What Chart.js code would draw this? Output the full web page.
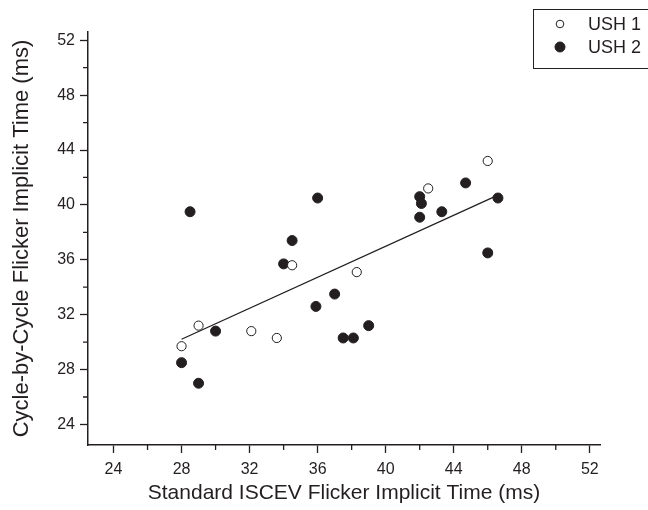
<!DOCTYPE html>
<html>
<head>
<meta charset="utf-8">
<script src="https://cdn.jsdelivr.net/npm/chart.js@4"></script>
<style>
  html, body { margin: 0; padding: 0; background: #fff; }
</style>
</head>
<body>
<canvas id="scatterChart" width="648" height="510"></canvas>
<script>
// USH 1 patients (open circles)
const ush1X = [28.0, 29.0, 32.1, 33.6, 34.5, 38.3, 42.5, 46.0];
const ush1Y = [29.7, 31.2, 30.8, 30.3, 35.6, 35.1, 41.2, 43.2];

// USH 2 patients (filled circles)
const ush2X = [28.0, 28.5, 29.0, 30.0, 34.0, 34.5, 35.9, 36.0, 37.0, 37.5, 38.1, 39.0, 42.0, 42.1, 42.0, 43.3, 44.7, 46.0, 46.6];
const ush2Y = [28.5, 39.5, 27.0, 30.8, 35.7, 37.4, 32.6, 40.5, 33.5, 30.3, 30.3, 31.2, 40.6, 40.1, 39.1, 39.5, 41.6, 36.5, 40.5];

// axis ticks
const tickValues = [24, 28, 32, 36, 40, 44, 48, 52];
const minorValues = [26, 30, 34, 38, 42, 46, 50];

const ink = '#231f20';
const fontFamily = '"Liberation Sans", Arial, sans-serif';

function toPoints(xs, ys) {
  return xs.map((x, i) => ({ x: x, y: ys[i] }));
}

// least squares line over all patients
function fitLine() {
  const xs = ush1X.concat(ush2X);
  const ys = ush1Y.concat(ush2Y);
  const n = xs.length;
  const mx = xs.reduce((a, b) => a + b, 0) / n;
  const my = ys.reduce((a, b) => a + b, 0) / n;
  let sxy = 0, sxx = 0;
  for (let i = 0; i < n; i++) {
    sxy += (xs[i] - mx) * (ys[i] - my);
    sxx += (xs[i] - mx) * (xs[i] - mx);
  }
  const slope = sxy / sxx;
  const x0 = Math.min(...xs), x1 = Math.max(...xs);
  return [
    { x: x0, y: my + slope * (x0 - mx) },
    { x: x1, y: my + slope * (x1 - mx) }
  ];
}

// short minor ticks between the labelled ones
const minorTicks = {
  id: 'minorTicks',
  afterDraw(chart) {
    const c = chart.ctx, area = chart.chartArea;
    const xs = chart.scales.x, ys = chart.scales.y;
    c.save();
    c.strokeStyle = ink;
    c.lineWidth = 1.3;
    c.beginPath();
    minorValues.forEach(v => {
      const px = xs.getPixelForValue(v);
      c.moveTo(px, area.bottom);
      c.lineTo(px, area.bottom + 5);
      const py = ys.getPixelForValue(v);
      c.moveTo(area.left - 5, py);
      c.lineTo(area.left, py);
    });
    c.stroke();
    c.restore();
  }
};

// boxed legend in the top right corner
const boxLegend = {
  id: 'boxLegend',
  afterDraw(chart) {
    const c = chart.ctx;
    c.save();
    c.strokeStyle = ink;
    c.lineWidth = 1;
    c.strokeRect(533.5, 9.5, 130, 59);
    const rows = [24, 47];
    chart.data.datasets.slice(0, 2).forEach((ds, i) => {
      c.beginPath();
      c.arc(560, rows[i], i === 0 ? 3.8 : 5, 0, Math.PI * 2);
      c.fillStyle = ds.pointBackgroundColor;
      c.fill();
      c.lineWidth = 1;
      c.strokeStyle = ink;
      c.stroke();
      c.fillStyle = ink;
      c.font = '18px ' + fontFamily;
      c.textBaseline = 'middle';
      c.textAlign = 'left';
      c.fillText(ds.label, 588, rows[i] + 1);
    });
    c.restore();
  }
};

function createScatterChart() {
  const ctx = document.getElementById('scatterChart').getContext('2d');
  new Chart(ctx, {
    type: 'scatter',
    data: {
      datasets: [
        {
          label: 'USH 1',
          data: toPoints(ush1X, ush1Y),
          pointRadius: 4.6,
          pointBackgroundColor: '#ffffff',
          pointBorderColor: ink,
          pointBorderWidth: 1,
          order: 0
        },
        {
          label: 'USH 2',
          data: toPoints(ush2X, ush2Y),
          pointRadius: 5,
          pointBackgroundColor: ink,
          pointBorderColor: ink,
          pointBorderWidth: 1,
          order: 0
        },
        {
          label: 'fit',
          type: 'line',
          data: fitLine(),
          borderColor: ink,
          borderWidth: 1.3,
          pointRadius: 0,
          fill: false,
          order: 1
        }
      ]
    },
    options: {
      responsive: false,
      animation: false,
      layout: { padding: { top: 32, right: 48, left: 0, bottom: 0 } },
      plugins: {
        legend: { display: false },
        tooltip: { enabled: false }
      },
      scales: {
        x: {
          type: 'linear',
          min: 22.5,
          max: 52.6,
          afterBuildTicks: s => { s.ticks = tickValues.map(v => ({ value: v })); },
          afterFit: s => { s.height = 65; },
          grid: { drawOnChartArea: false, tickLength: 8, tickColor: ink, tickWidth: 1.3 },
          border: { color: ink, width: 1.5 },
          ticks: { color: ink, font: { family: fontFamily, size: 16 }, padding: 7, maxRotation: 0, autoSkip: false },
          title: {
            display: true,
            text: 'Standard ISCEV Flicker Implicit Time (ms)',
            color: ink,
            font: { family: fontFamily, size: 21 },
            padding: { top: 0, bottom: 4 }
          }
        },
        y: {
          type: 'linear',
          min: 22.5,
          max: 52.6,
          afterBuildTicks: s => { s.ticks = tickValues.map(v => ({ value: v })); },
          afterFit: s => { s.width = 88; },
          grid: { drawOnChartArea: false, tickLength: 8, tickColor: ink, tickWidth: 1.3 },
          border: { color: ink, width: 1.5 },
          ticks: { color: ink, font: { family: fontFamily, size: 16 }, padding: 5, autoSkip: false },
          title: {
            display: true,
            text: 'Cycle-by-Cycle Flicker Implicit Time (ms)',
            color: ink,
            font: { family: fontFamily, size: 22 },
            padding: { top: 9, bottom: 0 }
          }
        }
      }
    },
    plugins: [minorTicks, boxLegend]
  });
}

createScatterChart();
</script>
</body>
</html>
